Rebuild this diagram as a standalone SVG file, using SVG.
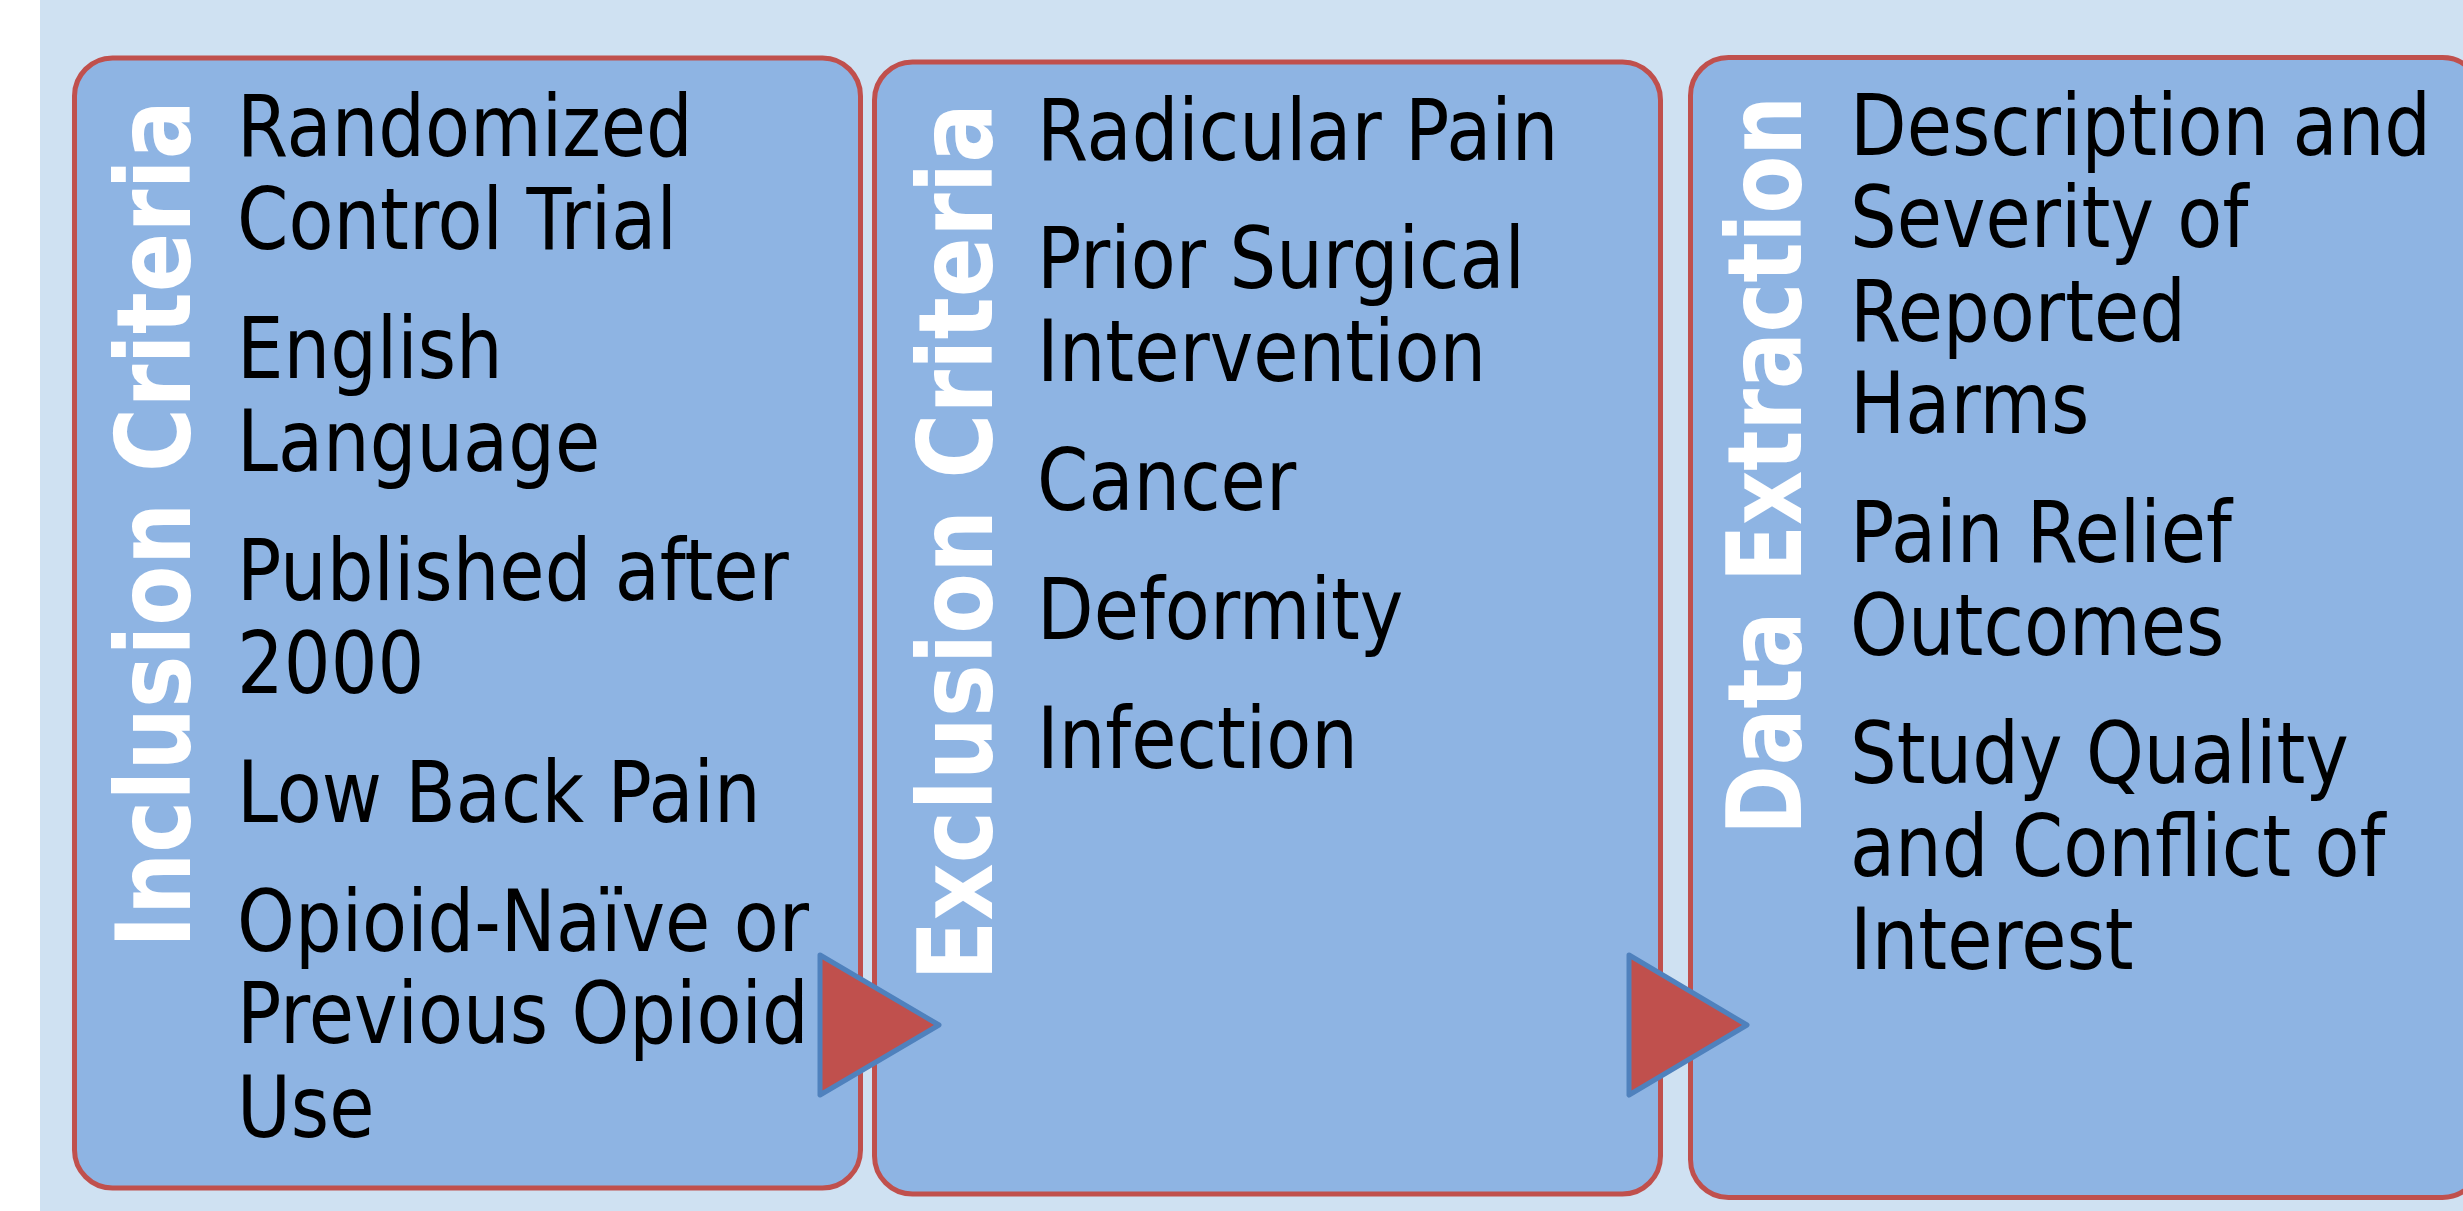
<svg xmlns="http://www.w3.org/2000/svg" width="2463" height="1211" viewBox="0 0 2463 1211">
<defs>
<style>
.box{fill:#8EB4E3;stroke:#C0504D;stroke-width:5}
.arrow{fill:#C0504D;stroke:#4F81BD;stroke-width:5;stroke-linejoin:round}
.title{font-family:"DejaVu Sans","Verdana",sans-serif;font-weight:bold;font-size:104px;fill:#FFFFFF}
.body{font-family:"DejaVu Sans","Verdana",sans-serif;font-size:85px;fill:#000000}
</style>
</defs>
<rect x="0" y="0" width="2463" height="1211" fill="#FFFFFF"/>
<rect x="40" y="0" width="2423" height="1211" fill="#CFE1F2"/>
<g id="node-inclusion">
<rect class="box" x="74.5" y="58" width="786" height="1130" rx="38" ry="38"/>
<text class="title" transform="translate(190,948) rotate(-90)" textLength="848" lengthAdjust="spacingAndGlyphs">Inclusion Criteria</text>
<g transform="translate(237,0) scale(0.866,1)">
<text class="body" x="0" y="156">Randomized</text>
<text class="body" x="0" y="249">Control Trial</text>
<text class="body" x="0" y="378">English</text>
<text class="body" x="0" y="471">Language</text>
<text class="body" x="0" y="600">Published after</text>
<text class="body" x="0" y="693">2000</text>
<text class="body" x="0" y="822">Low Back Pain</text>
<text class="body" x="0" y="951">Opioid-Naïve or</text>
<text class="body" x="0" y="1043">Previous Opioid</text>
<text class="body" x="0" y="1137">Use</text>
</g>
</g>
<g id="node-exclusion">
<rect class="box" x="874.5" y="62" width="786" height="1132" rx="38" ry="38"/>
<text class="title" transform="translate(992,981) rotate(-90)" textLength="878" lengthAdjust="spacingAndGlyphs">Exclusion Criteria</text>
<g transform="translate(1037,0) scale(0.866,1)">
<text class="body" x="0" y="160">Radicular Pain</text>
<text class="body" x="0" y="288">Prior Surgical</text>
<text class="body" x="0" y="381">Intervention</text>
<text class="body" x="0" y="510">Cancer</text>
<text class="body" x="0" y="639">Deformity</text>
<text class="body" x="0" y="768">Infection</text>
</g>
</g>
<g id="node-extraction">
<rect class="box" x="1690.5" y="57.5" width="790" height="1140" rx="38" ry="38"/>
<text class="title" transform="translate(1801,835) rotate(-90)" textLength="739" lengthAdjust="spacingAndGlyphs">Data Extraction</text>
<g transform="translate(1850,0) scale(0.866,1)">
<text class="body" x="0" y="155">Description and</text>
<text class="body" x="0" y="247">Severity of</text>
<text class="body" x="0" y="341">Reported</text>
<text class="body" x="0" y="433">Harms</text>
<text class="body" x="0" y="562">Pain Relief</text>
<text class="body" x="0" y="655">Outcomes</text>
<text class="body" x="0" y="783">Study Quality</text>
<text class="body" x="0" y="876">and Conflict of</text>
<text class="body" x="0" y="969">Interest</text>
</g>
</g>
<g id="connectors">
<polygon class="arrow" points="820,955 939,1025 820,1095"/>
<polygon class="arrow" points="1629,955 1747,1025 1629,1095"/>
</g>
</svg>
